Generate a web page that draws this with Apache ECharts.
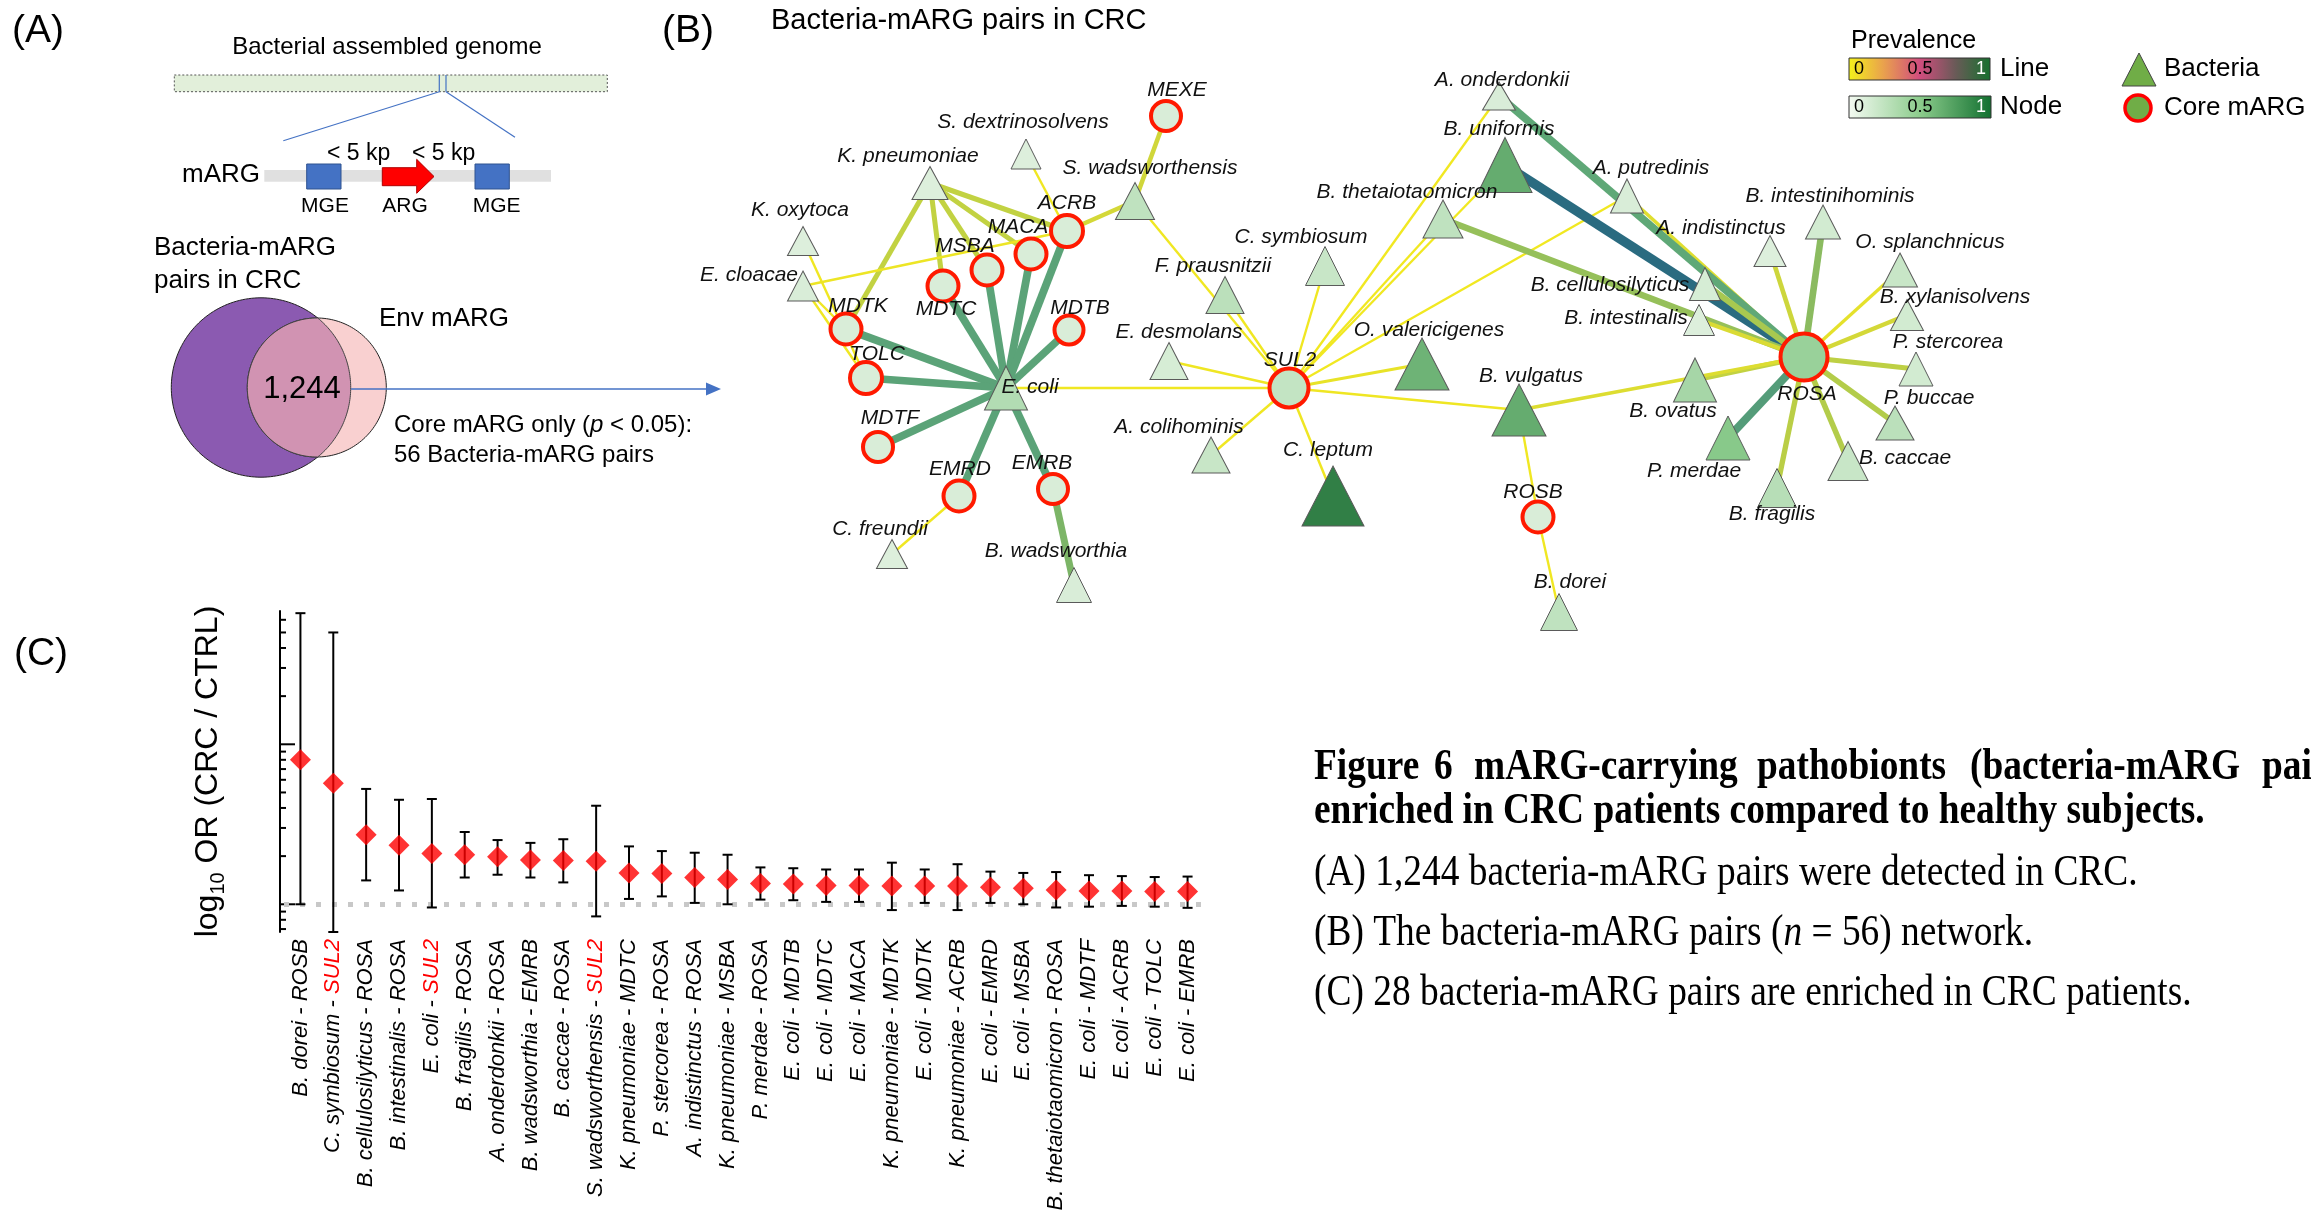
<!DOCTYPE html>
<html>
<head>
<meta charset="utf-8">
<style>
html,body{margin:0;padding:0;background:#fff;}
#chart{width:2311px;height:1222px;}
</style>
<script src="https://cdn.jsdelivr.net/npm/echarts@6/dist/echarts.min.js"></script>
</head>
<body>
<div id="chart"></div>
<script>
// ================= DATA =================
// Panel A
const vennIntersection = '1,244';
const corePairs = 56;

// Panel B: network nodes
const bacteriaNodes = ['S. dextrinosolvens','K. pneumoniae','K. oxytoca','E. cloacae','S. wadsworthensis','E. coli','C. freundii','B. wadsworthia','F. prausnitzii','C. symbiosum','E. desmolans','A. colihominis','C. leptum','O. valericigenes','A. onderdonkii','B. uniformis','B. thetaiotaomicron','A. putredinis','B. cellulosilyticus','B. intestinalis','B. vulgatus','B. ovatus','P. merdae','B. fragilis','B. caccae','P. buccae','P. stercorea','B. xylanisolvens','O. splanchnicus','B. intestinihominis','A. indistinctus','B. dorei'];
const margNodes = ['MEXE','ACRB','MACA','MSBA','MDTC','MDTB','MDTK','TOLC','MDTF','EMRD','EMRB','SUL2','ROSB','ROSA'];
// node prevalence (0-1)
const nodePrevalence = {
  'S. dextrinosolvens':0.10,'K. pneumoniae':0.10,'K. oxytoca':0.10,'E. cloacae':0.12,'S. wadsworthensis':0.24,'E. coli':0.30,
  'C. freundii':0.10,'B. wadsworthia':0.12,'F. prausnitzii':0.26,'C. symbiosum':0.20,'E. desmolans':0.13,'A. colihominis':0.20,
  'C. leptum':0.90,'O. valericigenes':0.62,'A. onderdonkii':0.12,'B. uniformis':0.66,'B. thetaiotaomicron':0.24,'A. putredinis':0.12,
  'B. cellulosilyticus':0.13,'B. intestinalis':0.10,'B. vulgatus':0.66,'B. ovatus':0.36,'P. merdae':0.50,'B. fragilis':0.28,
  'B. caccae':0.20,'P. buccae':0.26,'P. stercorea':0.15,'B. xylanisolvens':0.15,'O. splanchnicus':0.20,'B. intestinihominis':0.15,
  'A. indistinctus':0.10,'B. dorei':0.24,
  'MEXE':0.12,'ACRB':0.12,'MACA':0.12,'MSBA':0.12,'MDTC':0.12,'MDTB':0.12,'MDTK':0.12,'TOLC':0.12,'MDTF':0.12,'EMRD':0.12,'EMRB':0.12,
  'SUL2':0.22,'ROSB':0.12,'ROSA':0.42
};
// edges: [bacteria, mARG, line prevalence]
const edgeList = [
  ['E. coli','MDTK',0.72],['E. coli','TOLC',0.72],['E. coli','MDTF',0.72],['E. coli','EMRD',0.72],['E. coli','EMRB',0.72],
  ['E. coli','MDTC',0.72],['E. coli','MSBA',0.72],['E. coli','MACA',0.72],['E. coli','ACRB',0.72],['E. coli','MDTB',0.72],
  ['E. coli','SUL2',0.05],
  ['K. pneumoniae','MDTK',0.38],['K. pneumoniae','MDTC',0.38],['K. pneumoniae','MSBA',0.38],['K. pneumoniae','MACA',0.38],['K. pneumoniae','ACRB',0.38],
  ['K. oxytoca','TOLC',0.05],['E. cloacae','MDTK',0.05],['E. cloacae','TOLC',0.05],['E. cloacae','ACRB',0.08],
  ['S. dextrinosolvens','ACRB',0.05],['S. wadsworthensis','ACRB',0.30],['S. wadsworthensis','MEXE',0.32],['S. wadsworthensis','SUL2',0.05],
  ['C. freundii','EMRD',0.05],['B. wadsworthia','EMRB',0.62],
  ['F. prausnitzii','SUL2',0.05],['C. symbiosum','SUL2',0.05],['E. desmolans','SUL2',0.06],['A. colihominis','SUL2',0.05],
  ['C. leptum','SUL2',0.06],['O. valericigenes','SUL2',0.12],['B. vulgatus','SUL2',0.06],['A. onderdonkii','SUL2',0.04],
  ['B. uniformis','SUL2',0.04],['B. thetaiotaomicron','SUL2',0.04],['A. putredinis','SUL2',0.04],
  ['A. putredinis','ROSA',0.20],['A. onderdonkii','ROSA',0.70],['B. uniformis','ROSA',0.95],['B. thetaiotaomicron','ROSA',0.55],
  ['B. cellulosilyticus','ROSA',0.50],['B. intestinalis','ROSA',0.25],['A. indistinctus','ROSA',0.33],['B. intestinihominis','ROSA',0.58],
  ['O. splanchnicus','ROSA',0.15],['B. xylanisolvens','ROSA',0.30],['P. stercorea','ROSA',0.40],['P. buccae','ROSA',0.45],
  ['B. caccae','ROSA',0.45],['B. fragilis','ROSA',0.42],['P. merdae','ROSA',0.75],['B. ovatus','ROSA',0.38],['B. vulgatus','ROSA',0.22],
  ['B. vulgatus','ROSB',0.05],['B. dorei','ROSB',0.05]
];
// network layout (layout units = page pixels of the reference)
const nodeLayout = {
  'MEXE':[1166,116],'ACRB':[1067,231],'MACA':[1031,254],'MSBA':[987,270],'MDTC':[943,286],'MDTB':[1069,330],'MDTK':[846,329],
  'TOLC':[866,378],'MDTF':[878,447],'EMRD':[959,496],'EMRB':[1053,489],'SUL2':[1289,388],'ROSB':[1538,517],'ROSA':[1804,357],
  'S. dextrinosolvens':[1026,154],'K. pneumoniae':[930,183],'K. oxytoca':[803,241],'E. cloacae':[803,286],'S. wadsworthensis':[1135,201],
  'E. coli':[1006,388],'C. freundii':[892,554],'B. wadsworthia':[1074,585],'F. prausnitzii':[1225,295],'C. symbiosum':[1325,266],
  'E. desmolans':[1169,361],'A. colihominis':[1211,455],'C. leptum':[1333,496],'O. valericigenes':[1422,364],'A. onderdonkii':[1499,96],
  'B. uniformis':[1505,165],'B. thetaiotaomicron':[1443,219],'A. putredinis':[1627,196],'B. cellulosilyticus':[1705,284],
  'B. intestinalis':[1699,320],'B. vulgatus':[1519,410],'B. ovatus':[1695,380],'P. merdae':[1728,438],'B. fragilis':[1777,488],
  'B. caccae':[1848,461],'P. buccae':[1895,423],'P. stercorea':[1916,369],'B. xylanisolvens':[1907,315],'O. splanchnicus':[1900,270],
  'B. intestinihominis':[1823,222],'A. indistinctus':[1770,251],'B. dorei':[1559,612]
};

// Panel C
const pairCategories = ['B. dorei - ROSB','C. symbiosum - SUL2','B. cellulosilyticus - ROSA','B. intestinalis - ROSA','E. coli - SUL2',
  'B. fragilis - ROSA','A. onderdonkii - ROSA','B. wadsworthia - EMRB','B. caccae - ROSA','S. wadsworthensis - SUL2',
  'K. pneumoniae - MDTC','P. stercorea - ROSA','A. indistinctus - ROSA','K. pneumoniae - MSBA','P. merdae - ROSA',
  'E. coli - MDTB','E. coli - MDTC','E. coli - MACA','K. pneumoniae - MDTK','E. coli - MDTK','K. pneumoniae - ACRB',
  'E. coli - EMRD','E. coli - MSBA','B. thetaiotaomicron - ROSA','E. coli - MDTF','E. coli - ACRB','E. coli - TOLC','E. coli - EMRB'];
const oddsRatio = [8.0,5.7,2.72,2.34,2.08,2.04,1.98,1.89,1.88,1.86,1.57,1.56,1.47,1.43,1.35,1.34,1.31,1.31,1.30,1.30,1.30,1.28,1.26,1.23,1.21,1.21,1.20,1.20];
const ciUpper = [66,50,5.26,4.5,4.55,2.83,2.52,2.42,2.55,4.13,2.30,2.15,2.10,2.04,1.70,1.68,1.65,1.65,1.82,1.65,1.78,1.60,1.57,1.59,1.52,1.50,1.48,1.49];
const ciLower = [1.0,0.671,1.41,1.22,0.955,1.47,1.53,1.47,1.37,0.84,1.08,1.12,1.02,1.0,1.07,1.06,1.035,1.035,0.92,1.02,0.92,1.02,1.0,0.955,0.966,0.977,0.966,0.95];
const yMajorTicks = [1,10];
const yMinorTicks = [0.7,0.8,0.9,2,3,4,5,6,7,8,9,20,30,40,50,60];

// ================= STYLES =================
const SANS = "'Liberation Sans', Arial, Helvetica, sans-serif";
const SERIF = "'Liberation Serif', 'Times New Roman', serif";

const triSize = {
  'S. dextrinosolvens':[30,30],'K. pneumoniae':[36,33],'K. oxytoca':[31,29],'E. cloacae':[31,30],'S. wadsworthensis':[39,37],
  'E. coli':[43,44],'C. freundii':[31,29],'B. wadsworthia':[35,35],'F. prausnitzii':[38,37],'C. symbiosum':[39,39],'E. desmolans':[38,37],
  'A. colihominis':[38,36],'C. leptum':[62,60],'O. valericigenes':[54,52],'A. onderdonkii':[33,28],'B. uniformis':[54,55],
  'B. thetaiotaomicron':[40,38],'A. putredinis':[33,34],'B. cellulosilyticus':[31,33],'B. intestinalis':[31,31],'B. vulgatus':[54,52],
  'B. ovatus':[43,44],'P. merdae':[44,44],'B. fragilis':[39,39],'B. caccae':[40,39],'P. buccae':[38,34],'P. stercorea':[34,34],
  'B. xylanisolvens':[33,31],'O. splanchnicus':[35,34],'B. intestinihominis':[35,34],'A. indistinctus':[32,31],'B. dorei':[37,37]
};
const circSize = {'MEXE':30,'ACRB':32,'MACA':31,'MSBA':31,'MDTC':31,'MDTB':29,'MDTK':31,'TOLC':32,'MDTF':30,'EMRD':31,'EMRB':30,'SUL2':39,'ROSB':31,'ROSA':47};
const labelOffset = {
  'MEXE':[11,-26],'S. dextrinosolvens':[-3,-32],'K. pneumoniae':[-22,-27],'K. oxytoca':[-3,-31],'E. cloacae':[-54,-11],
  'S. wadsworthensis':[15,-33],'ACRB':[0,-28],'MACA':[-13,-27],'MSBA':[-22,-24],'MDTC':[3,23],'MDTB':[11,-22],'MDTK':[12,-23],
  'TOLC':[11,-24],'E. coli':[24,-1],'MDTF':[12,-29],'EMRD':[1,-27],'EMRB':[-11,-26],'C. freundii':[-12,-25],'B. wadsworthia':[-18,-34],
  'F. prausnitzii':[-12,-29],'C. symbiosum':[-24,-29],'E. desmolans':[10,-29],'A. colihominis':[-32,-28],'SUL2':[1,-28],
  'C. leptum':[-5,-46],'O. valericigenes':[7,-34],'A. onderdonkii':[3,-16],'B. uniformis':[-6,-36],'B. thetaiotaomicron':[-36,-27],
  'A. putredinis':[24,-28],'B. intestinihominis':[7,-26],'A. indistinctus':[-49,-23],'O. splanchnicus':[30,-28],
  'B. cellulosilyticus':[-95,1],'B. intestinalis':[-73,-2],'B. xylanisolvens':[48,-18],'P. stercorea':[32,-27],'ROSA':[3,37],
  'B. ovatus':[-22,31],'B. vulgatus':[12,-34],'P. buccae':[34,-25],'B. caccae':[57,-3],'P. merdae':[-34,33],'B. fragilis':[-5,26],
  'ROSB':[-5,-25],'B. dorei':[11,-30]
};

function hex2rgb(h){h=h.replace('#','');return [parseInt(h.substr(0,2),16),parseInt(h.substr(2,2),16),parseInt(h.substr(4,2),16)];}
function scaleColor(stops, t){
  t=Math.max(0,Math.min(1,t));
  for(let i=1;i<stops.length;i++){
    if(t<=stops[i][0]){
      const a=stops[i-1], b=stops[i]; const f=(t-a[0])/(b[0]-a[0]);
      const ca=hex2rgb(a[1]), cb=hex2rgb(b[1]);
      const c=ca.map((v,k)=>Math.round(v+(cb[k]-v)*f));
      return 'rgb('+c.join(',')+')';
    }
  }
  return stops[stops.length-1][1];
}
const nodeStops = [[0,'#f2f9f0'],[0.5,'#88c98a'],[1,'#1b6d35']];
const edgeStops = [[0,'#f6ea1e'],[0.3,'#d4d838'],[0.5,'#a8c850'],[0.7,'#5fa877'],[1,'#1f5f82']];

// ================= NETWORK =================
const graphNodes = bacteriaNodes.map(n => ({
  name:n, value:nodeLayout[n], symbol:'triangle', symbolSize:triSize[n],
  itemStyle:{color:scaleColor(nodeStops,nodePrevalence[n]), borderColor:'#5a5a5a', borderWidth:1},
  label:{offset:labelOffset[n]}
})).concat(margNodes.map(n => ({
  name:n, value:nodeLayout[n], symbol:'circle', symbolSize:circSize[n],
  itemStyle:{color:scaleColor(nodeStops,nodePrevalence[n]), borderColor:'#ff1a00', borderWidth:4},
  label:{offset:labelOffset[n]}
})));
const graphLinks = edgeList.map(e => ({
  source:e[0], target:e[1],
  lineStyle:{color:scaleColor(edgeStops,e[2]), width:2+e[2]*8, opacity:1}
}));

// ================= PANEL A / TEXT GRAPHICS =================
function T(text,x,y,size,opt){
  opt=opt||{};
  const el = {type:'text', z:10, x:x, y:y, style:Object.assign({
    text:text, x:0, y:0, fill:opt.fill||'#000',
    font:(opt.style||'normal')+' '+(opt.weight||'normal')+' '+size+'px '+(opt.family||SANS),
    fontSize:size, fontFamily:opt.family||SANS, fontStyle:opt.style||'normal', fontWeight:opt.weight||'normal',
    align:opt.align||'left', verticalAlign:'middle', textAlign:opt.align||'left', textVerticalAlign:'middle'
  }, opt.extra||{})};
  if(opt.scaleX){ el.scaleX = opt.scaleX; }
  return el;
}
function ellipsePts(cx,cy,rx,ry,a0,a1,n){
  const p=[]; for(let i=0;i<=n;i++){const a=a0+(a1-a0)*i/n; p.push([cx+rx*Math.cos(a), cy+ry*Math.sin(a)]);} return p;
}
const bigC={cx:261,cy:387.5,r:89.7};
const smC={cx:316.8,cy:387.5,r:69.5};
const dd=smC.cx-bigC.cx;
const aa=(bigC.r*bigC.r - smC.r*smC.r + dd*dd)/(2*dd);
const hh=Math.sqrt(bigC.r*bigC.r - aa*aa);
const xi=bigC.cx+aa;
const thSmBot=Math.atan2(hh, xi-smC.cx), thSmTop=Math.atan2(-hh, xi-smC.cx)+2*Math.PI;
const thBgTop=Math.atan2(-hh, xi-bigC.cx), thBgBot=Math.atan2(hh, xi-bigC.cx);
const lensPts = ellipsePts(smC.cx,smC.cy,smC.r,smC.r,thSmBot,thSmTop,80).concat(ellipsePts(bigC.cx,bigC.cy,bigC.r,bigC.r,thBgTop,thBgBot,80));

const BLUE='#4472c4';
const CAP = {family:SERIF, scaleX:0.85};
const CAPB = {family:SERIF, weight:'bold', scaleX:0.85};
const CS = 44;
const graphics = [
  T('(A)',38,31,39,{align:'center'}),
  T('(B)',688,31,39,{align:'center'}),
  T('(C)',41,654,39,{align:'center'}),
  T('Bacterial assembled genome',387,47,24,{align:'center'}),
  {type:'rect', shape:{x:174.3,y:75,width:433,height:16.7}, style:{fill:'#e2efda', stroke:'#555', lineWidth:1, lineDash:[2,2]}},
  {type:'line', shape:{x1:439.3,y1:75,x2:439.3,y2:91.7}, style:{stroke:BLUE,lineWidth:1.2}},
  {type:'line', shape:{x1:446,y1:75,x2:446,y2:91.7}, style:{stroke:BLUE,lineWidth:1.2}},
  {type:'line', shape:{x1:439.3,y1:91.7,x2:283.3,y2:140.7}, style:{stroke:BLUE,lineWidth:1.2}},
  {type:'line', shape:{x1:446,y1:91.7,x2:515,y2:137.3}, style:{stroke:BLUE,lineWidth:1.2}},
  {type:'rect', shape:{x:264.3,y:170,width:286.7,height:11.7}, style:{fill:'#e0e0e0'}},
  T('mARG',260,175,26,{align:'right'}),
  {type:'rect', shape:{x:306.7,y:164,width:34.3,height:25}, style:{fill:BLUE, stroke:'#2f528f', lineWidth:1}},
  {type:'rect', shape:{x:475,y:164,width:34.3,height:25}, style:{fill:BLUE, stroke:'#2f528f', lineWidth:1}},
  {type:'polygon', shape:{points:[[382.3,167.7],[416.7,167.7],[416.7,159.3],[434,176.5],[416.7,193.3],[416.7,185.7],[382.3,185.7]]}, style:{fill:'#ff0000', stroke:'#b00000', lineWidth:1}},
  T('< 5 kp',358.7,153.3,23,{align:'center'}),
  T('< 5 kp',443.7,153.3,23,{align:'center'}),
  T('MGE',325,206.7,21,{align:'center'}),
  T('ARG',405,206.7,21,{align:'center'}),
  T('MGE',496.7,206.7,21,{align:'center'}),
  T('Bacteria-mARG',154,248,26),
  T('pairs in CRC',154,281,26),
  T('Env mARG',379,319,26),
  {type:'polygon', shape:{points:ellipsePts(bigC.cx,bigC.cy,bigC.r,bigC.r,0,2*Math.PI,180)}, style:{fill:'#8b5ab1', stroke:'#222', lineWidth:1}},
  {type:'polygon', shape:{points:ellipsePts(smC.cx,smC.cy,smC.r,smC.r,0,2*Math.PI,180)}, style:{fill:'#f9d0d0', stroke:'#222', lineWidth:1}},
  {type:'polygon', shape:{points:lensPts}, style:{fill:'#d193b2', stroke:'#444', lineWidth:1}},
  T(vennIntersection,302,389,31,{align:'center'}),
  {type:'line', shape:{x1:351,y1:389,x2:707,y2:389}, style:{stroke:BLUE,lineWidth:1.6}},
  {type:'polygon', shape:{points:[[706,382.5],[721,389],[706,395.5]]}, style:{fill:BLUE}},
  T('Core mARG only ({i|p} < 0.05):',394,425,24,{extra:{rich:{i:{fontStyle:'italic',fontSize:24,fontFamily:SANS,fill:'#000'}}}}),
  T(corePairs+' Bacteria-mARG pairs',394,455,24),
  // Panel B title + legend
  T('Bacteria-mARG pairs in CRC',771,21,29),
  T('Prevalence',1851,41,25),
  {type:'rect', shape:{x:1849,y:58,width:141,height:22}, style:{stroke:'#333',lineWidth:1, fill:{type:'linear',x:0,y:0,x2:1,y2:0,colorStops:[
    {offset:0,color:'#f4f21a'},{offset:0.25,color:'#e9a04e'},{offset:0.5,color:'#d14d7e'},{offset:0.75,color:'#6b5a58'},{offset:1,color:'#16702e'}]}}},
  {type:'rect', shape:{x:1849,y:96,width:142,height:22}, style:{stroke:'#333',lineWidth:1, fill:{type:'linear',x:0,y:0,x2:1,y2:0,colorStops:[
    {offset:0,color:'#f4faf2'},{offset:0.5,color:'#8ccc8c'},{offset:1,color:'#127030'}]}}},
  T('0',1859,69,18,{align:'center'}), T('0.5',1920,69,18,{align:'center'}), T('1',1981,69,18,{align:'center',fill:'#fff'}),
  T('0',1859,107,18,{align:'center'}), T('0.5',1920,107,18,{align:'center'}), T('1',1981,107,18,{align:'center',fill:'#fff'}),
  T('Line',2000,69,26), T('Node',2000,107,26),
  {type:'polygon', shape:{points:[[2139,53],[2156,86],[2122,86]]}, style:{fill:'#70ad47', stroke:'#444', lineWidth:1}},
  {type:'circle', shape:{cx:2138,cy:108,r:13}, style:{fill:'#70ad47', stroke:'#ff0000', lineWidth:3.5}},
  T('Bacteria',2164,69,26), T('Core mARG',2164,108,26),
  // caption
  T('Figure',1314,768,CS,CAPB),
  T('6',1434,768,CS,CAPB),
  T('mARG-carrying',1474,768,CS,CAPB),
  T('pathobionts',1757,768,CS,CAPB),
  T('(bacteria-mARG',1970,768,CS,CAPB),
  T('pairs)',2262,768,CS,CAPB),
  T('enriched in CRC patients compared to healthy subjects.',1314,812,CS,CAPB),
  T('(A) 1,244 bacteria-mARG pairs were detected in CRC.',1314,873,CS,CAP),
  T('(B) The bacteria-mARG pairs ({i|n} = 56) network.',1314,933,CS,Object.assign({extra:{rich:{i:{fontStyle:'italic',fontSize:CS,fontFamily:SERIF,fill:'#000'}}}},CAP)),
  T('(C) 28 bacteria-mARG pairs are enriched in CRC patients.',1314,993,CS,CAP)
];

// ================= CHART =================
const chart = echarts.init(document.getElementById('chart'), null, {renderer:'canvas'});
const labelRich = {
  s:{fontStyle:'italic', fontSize:22, fontFamily:SANS, color:'#000'},
  r:{fontStyle:'italic', fontSize:22, fontFamily:SANS, color:'#ff0000'}
};
const option = {
  animation:false,
  backgroundColor:'#ffffff',
  graphic:{elements:graphics},
  grid:[
    {left:0, top:0, width:2311, height:1222, containLabel:false},
    {left:284, top:611, width:920, height:321, containLabel:false}
  ],
  xAxis:[
    {gridIndex:0, type:'value', min:0, max:2311, show:false},
    {gridIndex:1, type:'category', data:pairCategories, boundaryGap:true,
      axisLine:{show:false}, axisTick:{show:false}, splitLine:{show:false},
      axisLabel:{interval:0, rotate:90, margin:7, fontSize:22, fontFamily:SANS, fontStyle:'italic', color:'#000',
        formatter:function(v){const p=v.split(' - '); return '{s|'+p[0]+' - }{'+(p[1]==='SUL2'?'r':'s')+'|'+p[1]+'}';},
        rich:labelRich}}
  ],
  yAxis:[
    {gridIndex:0, type:'value', min:0, max:1222, inverse:true, show:false},
    {gridIndex:1, type:'log', logBase:10, min:0.671, max:68.1, offset:4,
      axisLine:{show:true, lineStyle:{color:'#000', width:2}}, axisTick:{show:false}, axisLabel:{show:false},
      splitLine:{show:false}, minorTick:{show:false},
      name:'log{sub|10} OR (CRC / CTRL)', nameLocation:'middle', nameRotate:90, nameGap:52,
      nameTextStyle:{fontSize:32, fontFamily:SANS, color:'#000', lineHeight:40,
        rich:{sub:{fontSize:20, fontFamily:SANS, color:'#000', lineHeight:20, verticalAlign:'bottom'}}}}
  ],
  series:[
    {
      type:'graph', coordinateSystem:'cartesian2d', xAxisIndex:0, yAxisIndex:0, layout:'none',
      data:graphNodes, links:graphLinks, z:3,
      label:{show:true, position:'inside', fontSize:21, fontStyle:'italic', fontFamily:SANS, color:'#111'},
      lineStyle:{opacity:1, curveness:0},
      emphasis:{disabled:true}, silent:true
    },
    {
      type:'line', xAxisIndex:1, yAxisIndex:1, data:[], z:1, silent:true,
      markLine:{silent:true, symbol:['none','none'], label:{show:false},
        lineStyle:{type:[5,11], color:'#c8c8c8', width:5, cap:'butt'},
        data:[{yAxis:1}]}
    },
    {
      type:'custom', xAxisIndex:1, yAxisIndex:1, z:4, silent:true,
      data:yMajorTicks.map(v=>[0,v,1]).concat(yMinorTicks.map(v=>[0,v,0])),
      encode:{x:0, y:1},
      renderItem:function(params, api){
        const y = api.coord([0, api.value(1)])[1];
        const x0 = params.coordSys.x - 4;
        const len = api.value(2) ? 15 : 6;
        return {type:'line', shape:{x1:x0, y1:y, x2:x0+len, y2:y}, style:{stroke:'#000', lineWidth:2}};
      }
    },
    {
      type:'custom', xAxisIndex:1, yAxisIndex:1, z:5, silent:true,
      data:pairCategories.map((c,i)=>[i, ciLower[i], ciUpper[i]]),
      encode:{x:0, y:[1,2]},
      renderItem:function(params, api){
        const i = api.value(0);
        const lo = api.coord([i, api.value(1)]);
        const hi = api.coord([i, api.value(2)]);
        const x = lo[0], w = 5;
        const st = {stroke:'#000', lineWidth:2};
        return {type:'group', children:[
          {type:'line', shape:{x1:x, y1:lo[1], x2:x, y2:hi[1]}, style:st},
          {type:'line', shape:{x1:x-w, y1:lo[1], x2:x+w, y2:lo[1]}, style:st},
          {type:'line', shape:{x1:x-w, y1:hi[1], x2:x+w, y2:hi[1]}, style:st}
        ]};
      }
    },
    {
      type:'scatter', xAxisIndex:1, yAxisIndex:1, z:6, silent:true,
      symbol:'diamond', symbolSize:[21,21],
      itemStyle:{color:'#ff0000'},
      data:oddsRatio
    }
  ]
};
chart.setOption(option);
</script>
</body>
</html>
